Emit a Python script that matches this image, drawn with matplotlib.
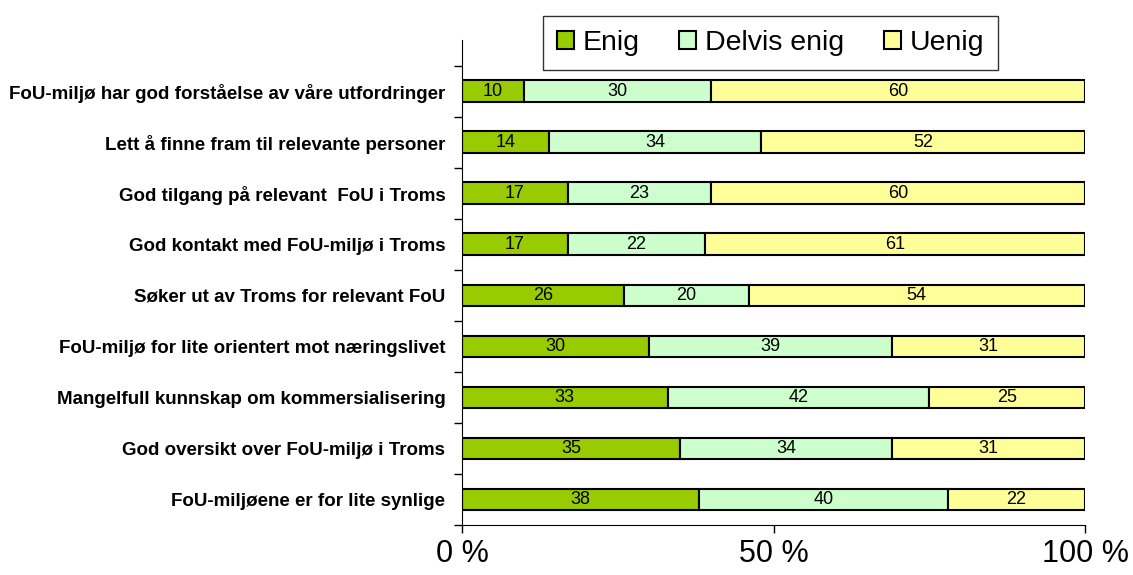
import numpy as np
import matplotlib.pyplot as plt

plt.rcParams['font.family'] = ['Liberation Sans', 'DejaVu Sans']

# data, top to bottom
categories = ['FoU-miljø har god forståelse av våre utfordringer',
              'Lett å finne fram til relevante personer',
              'God tilgang på relevant  FoU i Troms',
              'God kontakt med FoU-miljø i Troms',
              'Søker ut av Troms for relevant FoU',
              'FoU-miljø for lite orientert mot næringslivet',
              'Mangelfull kunnskap om kommersialisering',
              'God oversikt over FoU-miljø i Troms',
              'FoU-miljøene er for lite synlige']
enig = [10, 14, 17, 17, 26, 30, 33, 35, 38]
delvis = [30, 34, 23, 22, 20, 39, 42, 34, 40]
uenig = [60, 52, 60, 61, 54, 31, 25, 31, 22]
series = ['Enig', 'Delvis enig', 'Uenig']
colors = ['#99CC00', '#CCFFCC', '#FFFF99']

fig = plt.figure(figsize=(11.33, 5.75), dpi=100)
ax = fig.add_axes([462/1133, 1-525/575, 623/1133, 485/575])

n = len(categories)
y = np.arange(n)[::-1]
left = np.zeros(n)
for name, vals, col in zip(series, [enig, delvis, uenig], colors):
    vals = np.array(vals)
    ax.barh(y, vals, left=left, height=0.42, color=col,
            edgecolor='black', linewidth=1.5, label=name)
    for yi, l, v in zip(y, left, vals):
        ax.text(l + v/2, yi, str(v), ha='center', va='center', fontsize=13)
    left = left + vals

ax.set_xlim(0, 100)
ax.set_ylim(-0.5, 9.0)
ax.set_xticks([0, 50, 100])
ax.set_xticklabels(['0 %', '50 %', '100 %'], fontsize=22)
ax.tick_params(axis='x', length=6, width=1, pad=4)
ax.set_yticks(y)
ax.set_yticklabels(categories, fontsize=13.5, fontweight='bold')
ax.tick_params(axis='y', which='major', length=0, pad=12)
ax.set_yticks(np.arange(n + 1) - 0.5, minor=True)
ax.tick_params(axis='y', which='minor', length=6, width=1)
for s in ['top', 'right']:
    ax.spines[s].set_visible(False)

leg = ax.legend(loc='upper center', bbox_to_anchor=(0.495, 1.05), ncol=3,
                fontsize=20.5, frameon=True, fancybox=False, handlelength=0.6,
                handleheight=0.6, handletextpad=0.3, columnspacing=1.4,
                borderpad=0.5, borderaxespad=0)
leg.get_frame().set_edgecolor('black')
leg.get_frame().set_linewidth(1)

fig.savefig('out.png', dpi=100)
